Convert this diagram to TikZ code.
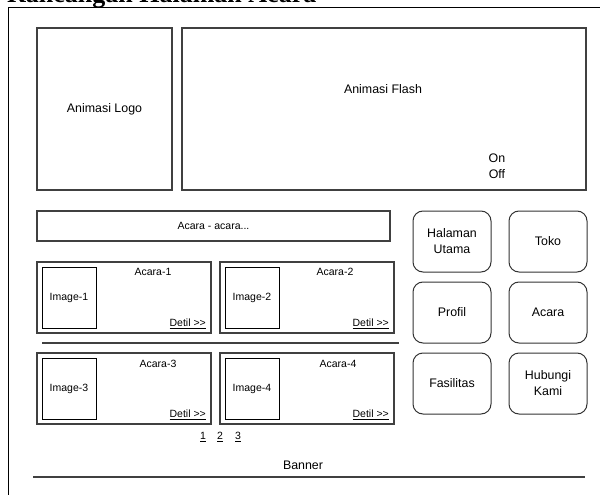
\documentclass[tikz,border=0pt]{standalone}
\usepackage{fontspec}
\setmainfont{Liberation Sans}
\newfontfamily\titlefont{Liberation Serif}
\newcommand{\bigtxt}{\fontsize{12.4}{16}\selectfont}
\newcommand{\smalltxt}{\fontsize{10.5}{12.6}\selectfont}
\newcommand{\detil}{\underline{Detil {>}{>}}}
\begin{document}
\begin{tikzpicture}[x=1pt,y=-1pt,
  box/.style={draw=black!75,line width=1.1pt,inner sep=0pt},
  imgbox/.style={draw=black,line width=0.8pt,inner sep=0pt,minimum width=54pt,minimum height=61pt,font=\smalltxt},
  navbtn/.style={draw=black!80,line width=1pt,rounded corners=10pt,inner sep=0pt,minimum width=78pt,minimum height=61pt,align=center,font=\bigtxt},
  evbox/.style={box,minimum width=174pt,minimum height=71pt},
  big/.style={font=\bigtxt,inner sep=0pt,align=center},
  small/.style={font=\smalltxt,inner sep=0pt}]
\useasboundingbox (0,0) rectangle (600,495);
\clip (0,0) rectangle (600,495);
% title (clipped)
\node[anchor=base west,font=\titlefont\bfseries\fontsize{26}{30}\selectfont,inner sep=0pt] (title) at (7,3) {Rancangan Halaman Acara};
% outer frame
\draw[line width=1pt] (8,500) -- (8,8) -- (605,8);
% header
\node[box,minimum width=135pt,minimum height=162pt,font=\bigtxt] (logo) at (104.5,109) {Animasi Logo};
\node[box,minimum width=404pt,minimum height=162pt] (flash) at (384,109) {};
\node[big] (flashtxt) at (383,89) {Animasi Flash};
\node[big] (onoff) at (497,166.5) {On\\Off};
% acara bar
\node[box,minimum width=353pt,minimum height=30pt,font=\smalltxt] (bar) at (213.5,226) {Acara - acara...};
% event boxes
\node[evbox] (ev1) at (124,297.5) {};
\node[evbox] (ev2) at (307,297.5) {};
\node[evbox] (ev3) at (124,388.5) {};
\node[evbox] (ev4) at (307,388.5) {};
\node[imgbox] (img1) at (69,297.5) {Image-1};
\node[imgbox] (img2) at (252,297.5) {Image-2};
\node[imgbox] (img3) at (69,388.5) {Image-3};
\node[imgbox] (img4) at (252,388.5) {Image-4};
\node[small] (t1) at (153,272) {Acara-1};
\node[small] (t2) at (335,272) {Acara-2};
\node[small] (t3) at (158,364) {Acara-3};
\node[small] (t4) at (338,364) {Acara-4};
\node[small,anchor=east] (d1) at (206,324) {\detil};
\node[small,anchor=east] (d2) at (389,324) {\detil};
\node[small,anchor=east] (d3) at (206,415) {\detil};
\node[small,anchor=east] (d4) at (389,415) {\detil};
% separator
\draw[draw=black!75,line width=1.1pt] (42,343) -- (399,343);
% pages
\node[small] (p1) at (203,437) {\underline{1}};
\node[small] (p2) at (220,437) {\underline{2}};
\node[small] (p3) at (238,437) {\underline{3}};
% banner
\node[big] (banner) at (303,465) {Banner};
\draw[draw=black!75,line width=1.1pt] (33,477) -- (585,477);
% navigation
\node[navbtn] (home) at (452,241.5) {Halaman\\Utama};
\node[navbtn] (toko) at (548,241.5) {Toko};
\node[navbtn] (profil) at (452,312.5) {Profil};
\node[navbtn] (acara) at (548,312.5) {Acara};
\node[navbtn] (fas) at (452,383.5) {Fasilitas};
\node[navbtn] (kontak) at (548,383.5) {Hubungi\\Kami};
\end{tikzpicture}
\end{document}
